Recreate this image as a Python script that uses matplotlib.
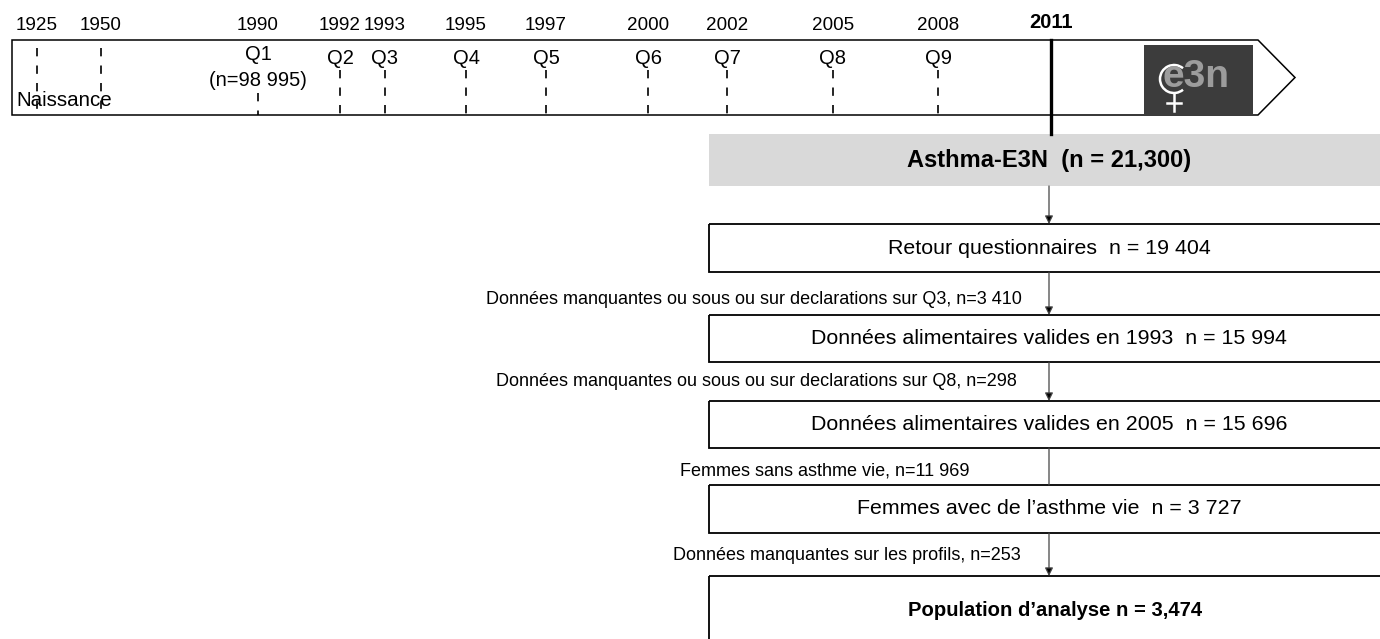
import matplotlib
matplotlib.use('Agg')
import matplotlib.pyplot as plt
from matplotlib.patches import Polygon, Rectangle, Arc

plt.rcParams['font.family'] = ['Liberation Sans', 'DejaVu Sans']

# timeline data
years = ['1925', '1950', '1990', '1992', '1993', '1995', '1997', '2000', '2002', '2005', '2008']
quest = ['', '', 'Q1', 'Q2', 'Q3', 'Q4', 'Q5', 'Q6', 'Q7', 'Q8', 'Q9']
q1_count = '(n=98 995)'
year_now = '2011'
birth_label = 'Naissance'

# flow chart data
cohort_label = 'Asthma-E3N  (n = 21,300)'
box_labels = ['Retour questionnaires  n = 19 404',
              'Données alimentaires valides en 1993  n = 15 994',
              'Données alimentaires valides en 2005  n = 15 696',
              'Femmes avec de l\u2019asthme vie  n = 3 727']
excl_labels = ['Données manquantes ou sous ou sur declarations sur Q3, n=3 410',
               'Données manquantes ou sous ou sur declarations sur Q8, n=298',
               'Femmes sans asthme vie, n=11 969',
               'Données manquantes sur les profils, n=253']
final_label = 'Population d\u2019analyse n = 3,474'

# layout (pixels)
tick_x = [37, 101, 258, 340, 385, 466, 546, 648, 727, 833, 938]
x_now = 1051
tl_left, tl_right, tl_tip, tl_top, tl_bot = 12, 1258, 1295, 40, 115
box_left, box_right = 709, 1385
box_top = [224, 315, 401, 485]
box_bot = [272, 362, 448, 533]
final_top = 576
band_top, band_bot = 134, 186
flow_x = 1049
excl_right = [1022, 1017, 970, 1021]
excl_y = [300, 381, 471, 556]
arrow_head = [True, True, False, True]

fig = plt.figure(figsize=(13.8, 6.39), dpi=100)
ax = fig.add_axes([0, 0, 1, 1])
ax.set_xlim(0, 1380)
ax.set_ylim(639, 0)
ax.axis('off')

# timeline arrow
ax.add_patch(Polygon([(tl_left, tl_top), (tl_right, tl_top), (tl_tip, (tl_top + tl_bot) / 2),
                      (tl_right, tl_bot), (tl_left, tl_bot)], closed=True,
                     fill=False, ec='black', lw=1.1))

for i in range(len(years)):
    x = tick_x[i]
    ax.text(x, 26, years[i], ha='center', va='center', fontsize=13.6)
    if i < 2:
        y0 = 48
    elif i == 2:
        y0 = 93
    else:
        y0 = 70
    ax.plot([x, x], [y0, tl_bot], color='black', lw=1.2, ls=(0, (5, 5.5)))
    if quest[i]:
        if i == 2:
            ax.text(x, 55, quest[i], ha='center', va='center', fontsize=14.5)
            ax.text(x, 80, q1_count, ha='center', va='center', fontsize=14.5)
        else:
            ax.text(x, 58, quest[i], ha='center', va='center', fontsize=14.5)
ax.text(tl_left + 4, 100, birth_label, ha='left', va='center', fontsize=14.8)

ax.text(x_now, 22, year_now, ha='center', va='center', fontsize=14.5, fontweight='bold')
ax.plot([x_now, x_now], [tl_top, band_top], color='black', lw=2.4)

# logo
ax.add_patch(Rectangle((1144, 45), 109, 70, fc='#3c3c3c', ec='none'))
ax.text(1163, 77, 'e3n', ha='left', va='center', fontsize=28, fontweight='bold',
        color='#9c9c9c')
ax.add_patch(Arc((1174, 79), 28, 28, theta1=50, theta2=310, color='white', lw=1.8))
ax.plot([1174, 1174], [93, 111], color='white', lw=1.8)
ax.plot([1167, 1181], [103, 103], color='white', lw=1.8)

# cohort band
ax.add_patch(Rectangle((box_left, band_top), box_right - box_left, band_bot - band_top,
                       fc='#d9d9d9', ec='none'))
ax.text(flow_x, (band_top + band_bot) / 2, cohort_label, ha='center', va='center',
        fontsize=17, fontweight='bold')

# boxes
prev_bot = band_bot
for i in range(len(box_labels)):
    top, bot = box_top[i], box_bot[i]
    ax.add_patch(Rectangle((box_left, top), box_right - box_left, bot - top,
                           fill=False, ec='black', lw=1.3))
    ax.text(flow_x, (top + bot) / 2, box_labels[i], ha='center', va='center', fontsize=15.4)
    if i == 0:
        ax.annotate('', xy=(flow_x, top), xytext=(flow_x, prev_bot),
                    arrowprops=dict(arrowstyle='-|>', color='#444444', fc='black', lw=0.9,
                                    mutation_scale=12, shrinkA=0, shrinkB=0))
    prev_bot = bot

# connectors with exclusion labels
tops = box_top[1:] + [final_top]
for i in range(len(excl_labels)):
    style = '-|>' if arrow_head[i] else '-'
    ax.annotate('', xy=(flow_x, tops[i]), xytext=(flow_x, box_bot[i]),
                arrowprops=dict(arrowstyle=style, color='#444444', fc='black', lw=0.9,
                                mutation_scale=12, shrinkA=0, shrinkB=0))
    ax.text(excl_right[i], excl_y[i], excl_labels[i], ha='right', va='center', fontsize=13)

# final box
ax.add_patch(Rectangle((box_left, final_top), box_right - box_left, 100,
                       fill=False, ec='black', lw=1.3))
ax.text(1055, 610, final_label, ha='center', va='center', fontsize=14.6, fontweight='bold')

fig.savefig('out.png', dpi=100)
